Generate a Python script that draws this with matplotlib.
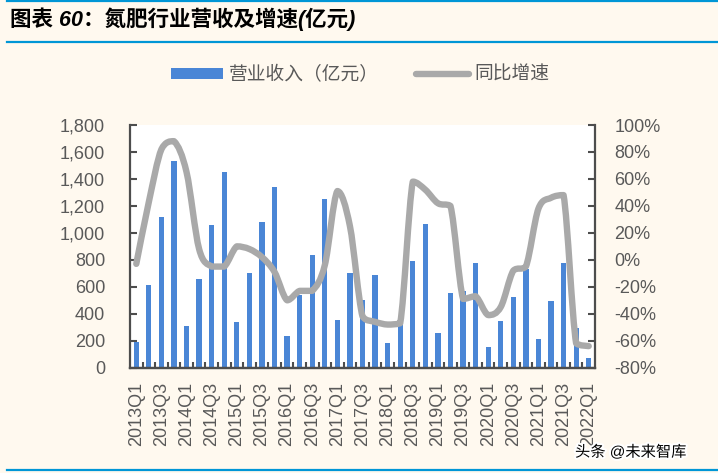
import matplotlib
matplotlib.use("Agg")
import matplotlib.pyplot as plt
import numpy as np
from matplotlib.path import Path
from matplotlib.patches import PathPatch, Patch
from matplotlib.lines import Line2D
from matplotlib.ticker import FuncFormatter, FixedLocator
import matplotlib.patheffects as pe

plt.rcParams["font.family"] = ["Liberation Sans", "Noto Sans CJK SC", "DejaVu Sans"]

# ── Data ─────────────────────────────────────────────────────────────────────
quarters = [f"{y}Q{q}" for y in range(2013, 2023) for q in (1, 2, 3, 4)][:37]
revenue = [190, 615, 1115, 1533, 307, 658, 1058, 1448, 337, 705, 1077, 1343,
           238, 540, 838, 1249, 354, 706, 502, 686, 181, 335, 791, 1066,
           260, 555, 567, 774, 154, 343, 525, 735, 210, 495, 780, 295, 70]
growth = [-3, 43, 82, 88, 65, 8, -5, -5, 10, 8, 2, -9,
          -30, -23, -23, -4, 51, 25, -42, -46, -48, -47, 58, 52,
          42, 40, -29, -27, -41, -35, -8, -5, 38, 46, 48, -62, -64]

BG     = "#FFF9EF"
BLUE   = "#4A86D6"
GREY   = "#A9A9A9"
TXT    = "#595959"
SPINE  = "#4D4D4D"
RULE   = "#0096D6"

fig = plt.figure(figsize=(7.18, 4.73), dpi=100, facecolor=BG)
ax = fig.add_axes([130 / 718, 1 - 367.7 / 473, 465 / 718, 242.7 / 473])
ax.set_facecolor("white")
ax2 = ax.twinx()

x = np.arange(len(quarters))
ax.bar(x, revenue, width=0.42, color=BLUE, zorder=2)
ax.set_xlim(-0.5, len(quarters) - 0.5)
ax.set_ylim(0, 1800)
ax.set_yticks(range(0, 1801, 200))
ax.yaxis.set_major_formatter(FuncFormatter(lambda v, _: f"{int(v):,}"))

# smoothed line through the points (bezier, control points kept inside each
# segment's y range so the curve does not overshoot, like Excel's)
pts = np.column_stack([x, growth]).astype(float)
verts = [pts[0]]
codes = [Path.MOVETO]
n = len(pts)
for i in range(n - 1):
    p0 = pts[max(i - 1, 0)]
    p1, p2 = pts[i], pts[i + 1]
    p3 = pts[min(i + 2, n - 1)]
    c1 = p1 + (p2 - p0) / 6
    c2 = p2 - (p3 - p1) / 6
    lo, hi = min(p1[1], p2[1]), max(p1[1], p2[1])
    c1[1] = np.clip(c1[1], lo, hi)
    c2[1] = np.clip(c2[1], lo, hi)
    verts += [c1, c2, p2]
    codes += [Path.CURVE4] * 3
ax2.add_patch(PathPatch(Path(verts, codes), fill=False, edgecolor=GREY,
                        lw=4.6, capstyle="round", joinstyle="round"))
ax2.set_ylim(-80, 100)
ax2.set_yticks(range(-80, 101, 20))
ax2.yaxis.set_major_formatter(FuncFormatter(lambda v, _: f"{int(v)}%"))
ax2.set_xlim(-0.5, len(quarters) - 0.5)

# ticks & spines
for a in (ax, ax2):
    for s in a.spines.values():
        s.set_color(SPINE)
        s.set_linewidth(1.6)
    a.spines["top"].set_visible(False)
ax.spines["right"].set_visible(False)
ax2.spines["left"].set_visible(False)

ax.set_xticks(x[::2])
ax.set_xticklabels(quarters[::2], rotation=90)
ax.xaxis.set_minor_locator(FixedLocator(np.arange(0.5, len(quarters) - 0.5, 1)))
ax.tick_params(axis="x", which="major", length=0, pad=10, labelsize=13, labelcolor=TXT)
ax.tick_params(axis="x", which="minor", direction="in", length=4, width=1.5, color=SPINE)
ax.tick_params(axis="y", direction="in", length=5, width=1.5, color=SPINE,
               pad=18, labelsize=13, labelcolor=TXT)
ax2.tick_params(axis="y", direction="in", length=5, width=1.5, color=SPINE,
                pad=14, labelsize=13, labelcolor=TXT)

# legend
handles = [Patch(facecolor=BLUE, edgecolor="none"),
           Line2D([], [], color=GREY, lw=4.6, solid_capstyle="round")]
fig.legend(handles, ["营业收入（亿元）", "同比增速"], loc="center",
           bbox_to_anchor=(360 / 718, 1 - 75 / 473), ncol=2, frameon=False,
           fontsize=13.5, labelcolor=TXT, handlelength=2.8, handleheight=0.55,
           handletextpad=0.3, columnspacing=2.0)

# title and rules
fig.text(10 / 718, 1 - 19 / 473, "图表 60：氮肥行业营收及增速(亿元)", fontsize=15.5,
         fontweight="bold", fontstyle="italic", color="black", va="center", ha="left")
for yy in (1, 42, 470):
    fig.add_artist(Line2D([7 / 718, 1], [1 - yy / 473] * 2, color=RULE, lw=1.6))

fig.text(575 / 718, 1 - 452 / 473, "头条 @未来智库", fontsize=11, color="black",
         va="center", ha="left",
         path_effects=[pe.withStroke(linewidth=3, foreground="white")])

fig.savefig("out.png", dpi=100, facecolor=BG)
